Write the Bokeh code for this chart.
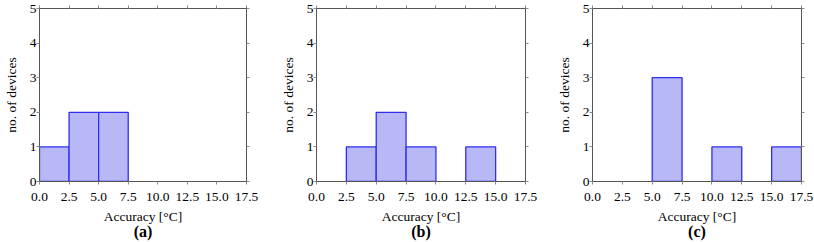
from bokeh.plotting import figure
from bokeh.layouts import row
from bokeh.models import (LinearAxis, FixedTicker, NumeralTickFormatter, ColumnDataSource,
                          Range1d, CustomJSTickFormatter)
from bokeh.embed import file_html
from bokeh.resources import INLINE

bin_left = [0.0, 2.5, 5.0, 7.5, 10.0, 12.5, 15.0]
bin_width = 2.5
counts_a = [1, 2, 2, 0, 0, 0, 0]
counts_b = [0, 1, 2, 1, 0, 1, 0]
counts_c = [0, 0, 3, 0, 1, 0, 1]
x_ticks = [0.0, 2.5, 5.0, 7.5, 10.0, 12.5, 15.0, 17.5]
y_ticks = [0, 1, 2, 3, 4, 5]
captions = ["(a)", "(b)", "(c)"]
x_label = "Accuracy [°C]"
y_label = "no. of devices"

FONT = "Liberation Serif"
FS = "13.5px"
FRAME_W = 209

def make(counts, caption, width, left_border):
    p = figure(width=width, height=242, x_range=Range1d(0, 17.5), y_range=Range1d(0, 5),
               output_backend="svg", toolbar_location=None,
               min_border_left=left_border, min_border_right=width - left_border - FRAME_W,
               min_border_top=8, min_border_bottom=61)
    p.grid.visible = False
    p.outline_line_color = "#555555"
    p.outline_line_width = 1
    keep = [i for i, c in enumerate(counts) if c > 0]
    src = ColumnDataSource(dict(
        left=[bin_left[i] for i in keep],
        right=[bin_left[i] + bin_width for i in keep],
        top=[counts[i] for i in keep],
        bottom=[0] * len(keep)))
    p.quad(left="left", right="right", top="top", bottom="bottom", source=src,
           fill_color="#b8b8f6", line_color="#2e2ef2", line_width=1.3)

    for ax in (p.xaxis[0], p.yaxis[0]):
        ax.major_label_text_font = FONT
        ax.major_label_text_font_size = FS
        ax.major_label_text_color = "black"
        ax.axis_label_text_font = FONT
        ax.axis_label_text_font_size = FS
        ax.axis_label_text_font_style = "normal"
        ax.axis_label_text_color = "black"
        ax.minor_tick_line_color = None
        ax.major_tick_in = 0
        ax.major_tick_out = 3
        ax.major_tick_line_color = "#8a8a8a"
        ax.axis_line_color = "#555555"
    p.xaxis[0].ticker = FixedTicker(ticks=x_ticks)
    p.xaxis[0].formatter = NumeralTickFormatter(format="0.0")
    p.xaxis[0].axis_label = x_label
    p.xaxis[0].major_label_standoff = 8
    p.xaxis[0].axis_label_standoff = 5
    p.yaxis[0].ticker = FixedTicker(ticks=y_ticks)
    p.yaxis[0].axis_label = y_label
    p.yaxis[0].axis_label_standoff = 8
    p.yaxis[0].major_label_standoff = 0

    blank = CustomJSTickFormatter(code="return ''")
    top = LinearAxis(ticker=FixedTicker(ticks=x_ticks), formatter=blank,
                     major_label_text_font_size="0px",
                     axis_line_color="#555555", major_tick_in=0, major_tick_out=3,
                     major_tick_line_color="#8a8a8a", minor_tick_line_color=None,
                     major_label_standoff=0)
    right = LinearAxis(ticker=FixedTicker(ticks=y_ticks), formatter=blank,
                       major_label_text_font_size="0px",
                       axis_line_color="#555555", major_tick_in=0, major_tick_out=3,
                       major_tick_line_color="#8a8a8a", minor_tick_line_color=None,
                       major_label_standoff=0)
    p.add_layout(top, "above")
    p.add_layout(right, "right")

    # caption drawn as the label of an empty axis under the main x axis
    cap = LinearAxis(ticker=FixedTicker(ticks=[]), formatter=blank,
                     major_label_text_font_size="0px", major_label_standoff=0,
                     axis_line_color=None, major_tick_in=0, major_tick_out=0,
                     minor_tick_line_color=None,
                     axis_label=caption, axis_label_standoff=-4,
                     axis_label_text_font=FONT, axis_label_text_font_size="16px",
                     axis_label_text_font_style="bold", axis_label_text_color="black")
    p.add_layout(cap, "below")
    return p

pa = make(counts_a, captions[0], 272, 37)
pb = make(counts_b, captions[1], 271, 44)
pc = make(counts_c, captions[2], 271, 49)
layout = row(pa, pb, pc, spacing=0)
open("out.html", "w").write(file_html(layout, INLINE))
